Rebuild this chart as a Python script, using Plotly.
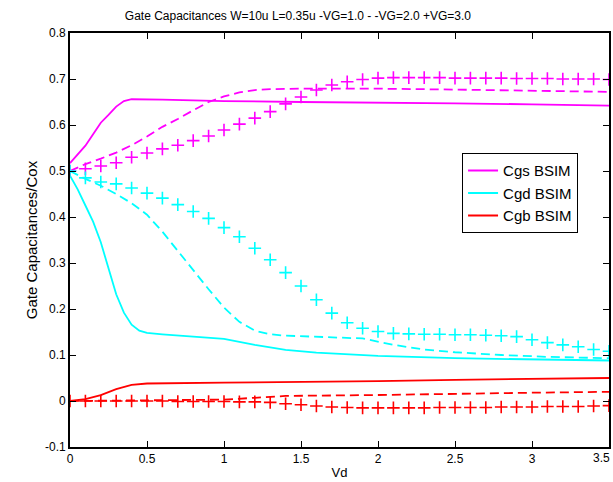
import plotly.graph_objects as go

# ---- data ----
vd_grid = [0.0, 0.1, 0.2, 0.3, 0.4, 0.5, 0.6, 0.7, 0.8, 0.9, 1.0, 1.1, 1.2, 1.3, 1.4, 1.5, 1.6, 1.7,
           1.8, 1.9, 2.0, 2.1, 2.2, 2.3, 2.4, 2.5, 2.6, 2.7, 2.8, 2.9, 3.0, 3.1, 3.2, 3.3, 3.4, 3.5]

cgs_vg1_x = [0, 0.05, 0.1, 0.15, 0.2, 0.25, 0.3, 0.35, 0.4, 0.6, 1.0, 1.5, 2.0, 2.5, 3.0, 3.5]
cgs_vg1_y = [0.517, 0.535, 0.555, 0.58, 0.605, 0.622, 0.64, 0.652, 0.656, 0.655, 0.652, 0.65,
             0.649, 0.647, 0.645, 0.642]
cgs_vg2_x = [0, 0.1, 0.2, 0.3, 0.4, 0.5, 0.6, 0.7, 0.8, 0.9, 1.0, 1.1, 1.2, 1.3, 1.5, 2.0, 2.5, 3.0, 3.5]
cgs_vg2_y = [0.50, 0.515, 0.527, 0.54, 0.556, 0.575, 0.596, 0.613, 0.632, 0.65, 0.662, 0.671, 0.676,
             0.678, 0.679, 0.679, 0.677, 0.675, 0.672]
cgs_vg3_y = [0.50, 0.505, 0.511, 0.518, 0.53, 0.539, 0.548, 0.556, 0.566, 0.576, 0.589, 0.602, 0.615,
             0.629, 0.646, 0.661, 0.676, 0.687, 0.694, 0.699, 0.702, 0.703, 0.703, 0.703, 0.703, 0.702,
             0.702, 0.702, 0.702, 0.701, 0.701, 0.701, 0.70, 0.70, 0.70, 0.699]

cgd_vg1_x = [0, 0.05, 0.1, 0.15, 0.2, 0.25, 0.3, 0.35, 0.4, 0.45, 0.5, 0.6, 0.8, 1.0, 1.2, 1.4, 1.6,
             2.0, 2.5, 3.0, 3.5]
cgd_vg1_y = [0.49, 0.46, 0.425, 0.39, 0.345, 0.29, 0.232, 0.192, 0.166, 0.153, 0.148, 0.145, 0.14,
             0.135, 0.122, 0.111, 0.105, 0.098, 0.093, 0.09, 0.088]
cgd_vg2_x = [0, 0.1, 0.2, 0.3, 0.4, 0.5, 0.6, 0.7, 0.8, 0.9, 1.0, 1.1, 1.2, 1.3, 1.4, 1.6, 1.9, 2.1,
             2.3, 2.5, 2.8, 3.1, 3.5]
cgd_vg2_y = [0.50, 0.483, 0.468, 0.45, 0.43, 0.405, 0.368, 0.326, 0.285, 0.243, 0.203, 0.172, 0.153,
             0.145, 0.142, 0.14, 0.136, 0.122, 0.112, 0.106, 0.1, 0.096, 0.093]
cgd_vg3_y = [0.50, 0.485, 0.476, 0.472, 0.463, 0.452, 0.441, 0.427, 0.412, 0.397, 0.377, 0.357, 0.332,
             0.307, 0.279, 0.25, 0.22, 0.191, 0.17, 0.158, 0.151, 0.147, 0.146, 0.145, 0.145, 0.144,
             0.144, 0.143, 0.142, 0.14, 0.133, 0.127, 0.122, 0.118, 0.112, 0.108]

cgb_vg1_x = [0, 0.1, 0.2, 0.3, 0.4, 0.5, 1.0, 1.5, 2.0, 2.5, 3.0, 3.5]
cgb_vg1_y = [0.0, 0.004, 0.013, 0.026, 0.035, 0.038, 0.04, 0.041, 0.043, 0.046, 0.048, 0.05]
cgb_vg2_x = [0, 0.5, 1.0, 1.2, 1.4, 2.0, 2.5, 3.0, 3.5]
cgb_vg2_y = [0.0, 0.001, 0.003, 0.007, 0.011, 0.013, 0.016, 0.018, 0.02]
cgb_vg3_y = [0, 0, 0, 0, 0, 0, 0, -0.001, -0.001, -0.001, -0.001, -0.002, -0.002, -0.003, -0.006,
             -0.008, -0.011, -0.013, -0.014, -0.015, -0.015, -0.015, -0.015, -0.015, -0.014, -0.014,
             -0.014, -0.014, -0.013, -0.013, -0.013, -0.012, -0.012, -0.012, -0.011, -0.01]

x_ticks = [0, 0.5, 1, 1.5, 2, 2.5, 3, 3.5]
x_tick_text = ["0", "0.5", "1", "1.5", "2", "2.5", "3", ""]
last_x_tick_value = 3.5
last_x_tick_text = "3.5"
y_ticks = [-0.1, 0, 0.1, 0.2, 0.3, 0.4, 0.5, 0.6, 0.7, 0.8]
y_tick_text = ["-0.1", "0", "0.1", "0.2", "0.3", "0.4", "0.5", "0.6", "0.7", "0.8"]

series = [
    ("Cgs BSIM", "#ff00ff", cgs_vg1_x, cgs_vg1_y, cgs_vg2_x, cgs_vg2_y, cgs_vg3_y),
    ("Cgd BSIM", "#00ffff", cgd_vg1_x, cgd_vg1_y, cgd_vg2_x, cgd_vg2_y, cgd_vg3_y),
    ("Cgb BSIM", "#ff0000", cgb_vg1_x, cgb_vg1_y, cgb_vg2_x, cgb_vg2_y, cgb_vg3_y),
]

FONT = "Liberation Sans, Arial, sans-serif"
fig = go.Figure()
for name, col, x1, y1, x2, y2, y3 in series:
    fig.add_trace(go.Scatter(x=x1, y=y1, mode="lines", name=name,
                             line=dict(color=col, width=1.8)))
for name, col, x1, y1, x2, y2, y3 in series:
    fig.add_trace(go.Scatter(x=x2, y=y2, mode="lines", showlegend=False,
                             line=dict(color=col, width=1.8, dash="9px,5px")))
    fig.add_trace(go.Scatter(x=vd_grid, y=y3, mode="markers", showlegend=False,
                             marker=dict(symbol="cross-thin", size=9, color=col,
                                         line=dict(color=col, width=1.6))))

axis_common = dict(showline=True, linecolor="black", linewidth=1.8, mirror="ticks",
                   ticks="inside", ticklen=6, tickcolor="black", tickwidth=1.2,
                   showgrid=False, zeroline=False, automargin=False,
                   tickfont=dict(family=FONT, size=12, color="black"))

fig.update_layout(
    width=613, height=482,
    margin=dict(l=70, r=4, t=33, b=35),
    paper_bgcolor="white", plot_bgcolor="white",
    title=dict(text="Gate Capacitances W=10u L=0.35u -VG=1.0 - -VG=2.0 +VG=3.0",
               x=0.486, xanchor="center", y=0.968, yanchor="middle",
               font=dict(family=FONT, size=12, color="black")),
    xaxis=dict(range=[0, 3.5], tickvals=x_ticks, ticktext=x_tick_text,
               title=dict(text="Vd", font=dict(family=FONT, size=13, color="black"), standoff=3),
               **axis_common),
    yaxis=dict(range=[-0.1, 0.8], tickvals=y_ticks, ticktext=y_tick_text,
               title=dict(text="Gate Capacitances/Cox", font=dict(family=FONT, size=15, color="black"),
                          standoff=4),
               **axis_common),
    legend=dict(x=0.727, y=0.71, xanchor="left", yanchor="top",
                bgcolor="white", bordercolor="black", borderwidth=1.2,
                font=dict(family=FONT, size=15, color="black")),
    showlegend=True,
)

# last x tick label, kept inside the page like the reference
fig.add_annotation(x=last_x_tick_value, xref="x", y=0, yref="paper",
                   text=last_x_tick_text, showarrow=False,
                   xanchor="right", yanchor="top", xshift=3, yshift=-2,
                   font=dict(family=FONT, size=12, color="black"))

fig.write_html("out.html")
